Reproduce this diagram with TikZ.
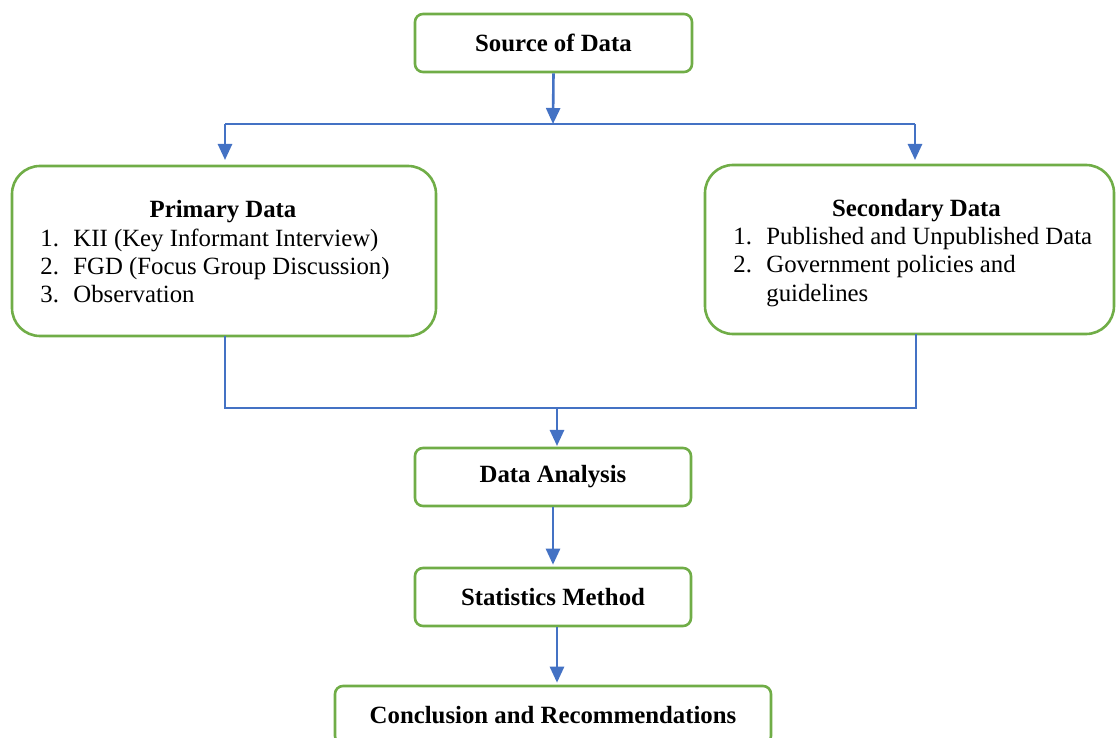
\documentclass[tikz,border=0pt]{standalone}
\usepackage{fontspec}
\setmainfont{Liberation Serif}
\usetikzlibrary{arrows.meta}
\definecolor{boxgreen}{RGB}{112,173,71}
\definecolor{lineblue}{RGB}{68,114,196}
\tikzset{
  box/.style={draw=boxgreen, line width=1.3pt, rounded corners=4pt, fill=white, inner sep=0pt},
  bigbox/.style={box, rounded corners=14pt},
  title/.style={font=\fontsize{12.4}{14.25}\selectfont\bfseries, inner sep=0pt},
  item/.style={font=\fontsize{12.4}{14.25}\selectfont, inner sep=0pt, anchor=base west},
  arr/.style={draw=lineblue, line width=1.3pt, -{Triangle[width=7pt,length=8pt]}},
  conn/.style={draw=lineblue, line width=0.9pt},
  thinconn/.style={draw=lineblue, line width=0.7pt}
}
\begin{document}
\begin{tikzpicture}[x=0.5pt,y=-0.5pt]
\useasboundingbox (0,0) rectangle (1116,738);
\begin{scope}
\clip (0,0) rectangle (1116,738);
% boxes
\node[box, minimum width=138.5pt, minimum height=29pt, title, draw=boxgreen, line width=1.3pt] (src) at (553.5,43) {Source of Data};
\node[bigbox, minimum width=212pt, minimum height=85pt] (prim) at (224,251) {};
\node[bigbox, minimum width=204.5pt, minimum height=84.5pt] (sec) at (909.5,249.5) {};
\node[box, minimum width=138pt, minimum height=29pt, title, draw=boxgreen, line width=1.3pt] (ana) at (553,477) {Data Analysis};
\node[box, minimum width=138pt, minimum height=29pt, title, draw=boxgreen, line width=1.3pt] (stat) at (553,597) {Statistics Method};
\node[box, minimum width=218pt, minimum height=29pt, draw=boxgreen, line width=1.3pt] (conc) at (553,715) {};
\node[title, anchor=base] (conct) at (553,723) {Conclusion and Recommendations};

% primary texts
\node[title, anchor=base] (pt) at (223,218) {Primary Data};
\node[item] (p1n) at (40,247) {1.};
\node[item] (p1) at (73,247) {KII (Key Informant Interview)};
\node[item] (p2n) at (40,275) {2.};
\node[item] (p2) at (73,275) {FGD (Focus Group Discussion)};
\node[item] (p3n) at (40,303) {3.};
\node[item] (p3) at (73,303) {Observation};

% secondary texts
\node[title, anchor=base] (st) at (916.5,217) {Secondary Data};
\node[item] (s1n) at (733,245) {1.};
\node[item] (s1) at (766,245) {Published and Unpublished Data};
\node[item] (s2n) at (733,273) {2.};
\node[item] (s2) at (766,273) {Government policies and};
\node[item] (s3) at (766,302) {guidelines};

% top split
\coordinate (split) at (553,124);
\coordinate (splitL) at (225,124);
\coordinate (splitR) at (915,124);
\coordinate (primTop) at (225,160);
\coordinate (secTop) at (915,160);
\draw[arr] (src.south) -- (split);
\draw[conn] (splitL) -- (splitR);
\draw[arr] (splitL) -- (primTop);
\draw[arr] (splitR) -- (secTop);

% merge
\coordinate (primBot) at (225,336);
\coordinate (secBot) at (916,334);
\coordinate (mergeL) at (225,408);
\coordinate (mergeR) at (916,408);
\coordinate (merge) at (557,408);
\coordinate (anaTop) at (557,446);
\draw[thinconn] (primBot) -- (mergeL) -- (mergeR) -- (secBot);
\draw[arr] (merge) -- (anaTop);

% chain
\draw[arr] (ana.south) -- ([yshift=1pt]stat.north);
\draw[arr] ([xshift=2pt]stat.south) -- ([xshift=2pt,yshift=1pt]conc.north);
\end{scope}
\end{tikzpicture}
\end{document}
